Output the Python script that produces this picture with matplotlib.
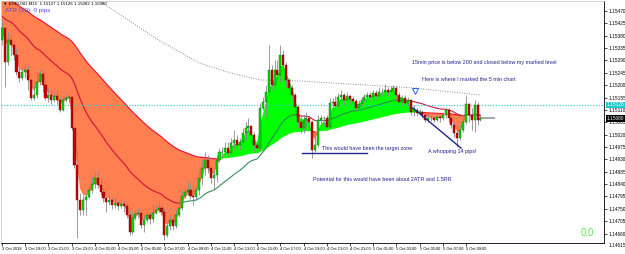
import numpy as np
import pandas as pd
import matplotlib
matplotlib.use("Agg")
import matplotlib.pyplot as plt
import matplotlib.transforms as mtrans
from matplotlib.collections import LineCollection

plt.rcParams['font.family'] = ['Liberation Sans', 'DejaVu Sans']

# EURUSD M15 bars, prices in points (0.00001) above BASE; open = previous close
BASE = 1.14
first_open = 1364
close_pts = [1408, 1284, 1364, 1346, 1310, 1248, 1226, 1248, 1255, 1219,
             1153, 1164, 1212, 1241, 1201, 1153, 1164, 1146, 1161, 1146,
             1110, 1146, 1153, 1157, 1044, 909, 782, 746, 782, 793,
             818, 840, 862, 837, 811, 789, 775, 782, 764, 771,
             760, 767, 760, 727, 666, 716, 731, 735, 691, 709,
             727, 713, 735, 746, 753, 738, 655, 687, 709, 687,
             727, 753, 797, 811, 818, 797, 793, 818, 862, 898,
             928, 898, 862, 873, 928, 957, 957, 971, 953, 990,
             1000, 982, 993, 1026, 1044, 1051, 1019, 982, 971, 1117,
             1139, 1175, 1255, 1201, 1255, 1237, 1310, 1273, 1219, 1190,
             1164, 1121, 1066, 1044, 1073, 1080, 1066, 964, 982, 1073,
             1080, 1080, 1048, 1135, 1139, 1124, 1157, 1164, 1146, 1161,
             1150, 1142, 1117, 1131, 1146, 1157, 1164, 1157, 1171, 1161,
             1175, 1175, 1182, 1175, 1182, 1190, 1164, 1139, 1153, 1135,
             1146, 1102, 1110, 1099, 1102, 1091, 1073, 1080, 1080, 1073,
             1084, 1080, 1091, 1110, 1080, 1055, 1026, 1008, 1037, 1066,
             1131, 1091, 1073, 1128, 1073, 1080]
high_pts = [1437, 1410, 1394, 1383, 1346, 1335, 1262, 1262, 1284, 1273,
            1226, 1201, 1248, 1255, 1255, 1212, 1190, 1182, 1175, 1182,
            1157, 1161, 1164, 1168, 1161, 1048, 964, 808, 800, 808,
            833, 869, 884, 884, 862, 826, 800, 797, 789, 789,
            782, 782, 778, 771, 746, 738, 746, 753, 746, 727,
            746, 738, 764, 767, 775, 764, 753, 709, 724, 724,
            746, 782, 818, 833, 855, 840, 837, 833, 891, 928,
            957, 946, 909, 891, 946, 971, 975, 993, 993, 1008,
            1037, 1019, 1008, 1044, 1066, 1080, 1055, 1030, 1000, 1135,
            1157, 1201, 1346, 1273, 1292, 1292, 1346, 1328, 1284, 1226,
            1201, 1172, 1128, 1091, 1091, 1102, 1084, 1073, 1030, 1091,
            1091, 1088, 1091, 1153, 1153, 1161, 1172, 1182, 1172, 1175,
            1164, 1161, 1150, 1146, 1157, 1168, 1175, 1175, 1182, 1182,
            1193, 1190, 1204, 1193, 1197, 1201, 1197, 1175, 1164, 1164,
            1157, 1150, 1128, 1117, 1113, 1110, 1099, 1095, 1091, 1088,
            1095, 1091, 1102, 1117, 1117, 1091, 1066, 1055, 1055, 1091,
            1164, 1135, 1117, 1146, 1139, 1091]
low_pts = [1346, 1193, 1273, 1310, 1292, 1237, 1212, 1219, 1226, 1182,
           1146, 1146, 1153, 1201, 1175, 1146, 1139, 1131, 1139, 1131,
           1102, 1105, 1139, 1139, 1037, 898, 644, 727, 727, 727,
           789, 807, 826, 826, 800, 775, 738, 764, 749, 753,
           746, 753, 738, 716, 655, 660, 709, 716, 680, 666,
           702, 695, 702, 731, 738, 727, 636, 647, 673, 673,
           680, 720, 745, 789, 800, 786, 764, 782, 800, 837,
           873, 880, 844, 818, 848, 920, 935, 942, 942, 946,
           964, 971, 964, 975, 1000, 1030, 982, 957, 957, 964,
           1110, 1080, 1157, 1182, 1190, 1219, 1212, 1248, 1190, 1172,
           1146, 1102, 1044, 1026, 1026, 1044, 1037, 935, 957, 975,
           1044, 1055, 1037, 1044, 1102, 1110, 1117, 1135, 1128, 1139,
           1131, 1131, 1110, 1110, 1124, 1139, 1146, 1146, 1146, 1146,
           1157, 1161, 1164, 1161, 1168, 1157, 1146, 1128, 1128, 1121,
           1124, 1091, 1088, 1088, 1091, 1080, 1066, 1066, 1070, 1066,
           1070, 1066, 1073, 1080, 1066, 1044, 1011, 975, 1000, 1030,
           1059, 1066, 1037, 1030, 1055, 1070]

# moving averages: starting values (read at the left edge) and spans
slow_start, slow_span = 1525, 72
mid_start, mid_span = 1455, 29
fast_span = 3
# 200 MA (dotted), read at a few bars
ma200_bars = [30, 33, 41, 54, 68, 79, 89, 103, 120, 142, 165]
ma200_pts = [1539, 1510, 1455, 1364, 1281, 1244, 1219, 1215, 1204, 1190, 1164]

time_bars = list(range(0, 161, 8))
time_labels = ["3 Oct 2018", "3 Oct 19:00", "3 Oct 21:00", "3 Oct 23:00",
               "4 Oct 01:00", "4 Oct 03:00", "4 Oct 05:00", "4 Oct 07:00",
               "4 Oct 09:00", "4 Oct 11:00", "4 Oct 13:00", "4 Oct 15:00",
               "4 Oct 17:00", "4 Oct 19:00", "4 Oct 21:00", "4 Oct 23:00",
               "5 Oct 01:00", "5 Oct 03:00", "5 Oct 05:00", "5 Oct 07:00",
               "5 Oct 09:00"]
price_ticks = [1.15470, 1.15425, 1.15380, 1.15335, 1.15290, 1.15245, 1.15200,
               1.15155, 1.15110, 1.15065, 1.15020, 1.14975, 1.14930, 1.14885,
               1.14840, 1.14795, 1.14750, 1.14705, 1.14660]
bottom_tick = 1.14615

level_price = 1.15128
bid_price = 1.15080
target_bars, target_price = [103.4, 125.9], 1.14953
drop_bars, drop_prices = [141.7, 158.3], [1.15117, 1.14971]
mark_bar, mark_price = 142.4, 1.15179

n = len(close_pts)
x = np.arange(n)
c = BASE + np.array(close_pts) / 1e5
h = BASE + np.array(high_pts) / 1e5
l = BASE + np.array(low_pts) / 1e5
o = np.r_[BASE + first_open / 1e5, c[:-1]]

fast = pd.Series(c).ewm(span=fast_span, adjust=False).mean().values
slow = pd.Series(np.r_[BASE + slow_start / 1e5, c]).ewm(span=slow_span, adjust=False).mean().values[1:]
mid = pd.Series(np.r_[BASE + mid_start / 1e5, c]).ewm(span=mid_span, adjust=False).mean().values[1:]

fig = plt.figure(figsize=(6.25, 2.54), dpi=100)
ax = fig.add_axes([1 / 625, 11 / 254, 603 / 625, 242 / 254])
ax.set_xlim(-0.345, 207.6)
ax.set_ylim(1.146255, 1.155064)

# cloud between fast and slow average
ax.fill_between(x, fast, slow, where=fast < slow, interpolate=True, color='#FF7F50', lw=0, zorder=1)
ax.fill_between(x, fast, slow, where=fast >= slow, interpolate=True, color='#00FF00', lw=0, zorder=1)
ax.plot(x, np.where(fast < slow, slow, np.nan), color='#E8102E', lw=0.8, zorder=2)

pts = np.column_stack([x, mid])
segs = np.stack([pts[:-1], pts[1:]], axis=1)
cols = np.where(np.diff(mid) < 0, '#D0103A', '#2E8B57')
ax.add_collection(LineCollection(segs, colors=cols, linewidths=0.8, zorder=2))

ax.plot(ma200_bars, BASE + np.array(ma200_pts) / 1e5, color='#8c8c8c',
        ls=(0, (1, 1.5)), lw=0.7, zorder=2)
ax.axhline(level_price, color='#20C8D0', ls=(0, (1, 1.5)), lw=0.8, zorder=2)

# candles
up = c >= o
ax.vlines(x, l, h, color='#8a8a8a', lw=0.6, zorder=3)
body_lo = np.minimum(o, c)
body_h = np.maximum(np.abs(c - o), 0.000015)
ax.bar(x[up], body_h[up], bottom=body_lo[up], width=0.7, color='#00E000',
       edgecolor='#006400', linewidth=0.3, zorder=4)
ax.bar(x[~up], body_h[~up], bottom=body_lo[~up], width=0.7, color='#C80000',
       edgecolor='#800000', linewidth=0.3, zorder=4)
ax.hlines(bid_price, n - 0.7, n + 4, color='#999999', lw=1.2, zorder=3)

# drawings
navy = '#22228f'
ax.plot(target_bars, [target_price] * 2, color=navy, lw=1, zorder=5)
ax.plot(drop_bars, drop_prices, color=navy, lw=1, zorder=5)
ax.plot(mark_bar, mark_price, marker='v', ms=4, mfc='white', mec='#3060ff', mew=0.7, zorder=6)

fs_note = 3.9
ax.text(141.4, 1.15281, "15min price is below 200 and closed below my marked level",
        fontsize=fs_note, color=navy, va='center')
ax.text(144.8, 1.15219, "Here is where I marked the 5 min chart", fontsize=fs_note, color=navy, va='center')
ax.text(110.3, 1.14968, "This would have been the target zone", fontsize=fs_note, color=navy, va='center')
ax.text(146.9, 1.14957, "A whopping 14 pips!", fontsize=fs_note, color=navy, va='center')
ax.text(107.2, 1.14858, "Potential for this would have been about 2ATR and 1.5RR",
        fontsize=fs_note, color=navy, va='center')

ax.text(0.004, 0.988, "\u25bc EURUSD,M15  1.15127 1.15126 1.15082 1.15080",
        transform=ax.transAxes, fontsize=3.2, va='center', color='black')
ax.text(0.006, 0.959, "ATR (10): 0 pips", transform=ax.transAxes, fontsize=4.5,
        va='center', color='#5b45d6')
ax.text(0.9726, 0.041, "0.0", transform=ax.transAxes, fontsize=7, ha='center',
        va='center', color='#5ee35e')

# axes
for side in ['left', 'top']:
    ax.spines[side].set_color('#c0c0c0')
    ax.spines[side].set_linewidth(0.5)
for side in ['right', 'bottom']:
    ax.spines[side].set_color('black')
    ax.spines[side].set_linewidth(0.6)

ax.yaxis.tick_right()
ax.set_yticks(price_ticks)
ax.set_yticklabels([f"{p:.5f}" for p in price_ticks])
ax.tick_params(axis='y', length=2, width=0.5, pad=1, labelsize=3.4)
ax.set_xticks(time_bars)
ax.set_xticklabels(time_labels, ha='left')
ax.tick_params(axis='x', length=2, width=0.5, pad=1, labelsize=2.9)

tr = mtrans.blended_transform_factory(ax.transAxes, ax.transData)
ax.annotate(f"{bottom_tick:.5f}", xy=(1, bottom_tick), xycoords=tr, xytext=(3, 0),
            textcoords='offset points', fontsize=3.4, va='center', annotation_clip=False)
ax.annotate(f"{level_price:.5f}", xy=(1, level_price), xycoords=tr, xytext=(2.2, 0),
            textcoords='offset points', fontsize=3.4, va='center', color='white',
            bbox=dict(boxstyle='square,pad=0.2', fc='#20C8D0', ec='none'), annotation_clip=False)
ax.annotate(f"{bid_price:.5f}", xy=(1, bid_price), xycoords=tr, xytext=(2.2, 0),
            textcoords='offset points', fontsize=3.4, va='center', color='white',
            bbox=dict(boxstyle='square,pad=0.2', fc='black', ec='none'), annotation_clip=False)

fig.savefig('out.png', dpi=100)
